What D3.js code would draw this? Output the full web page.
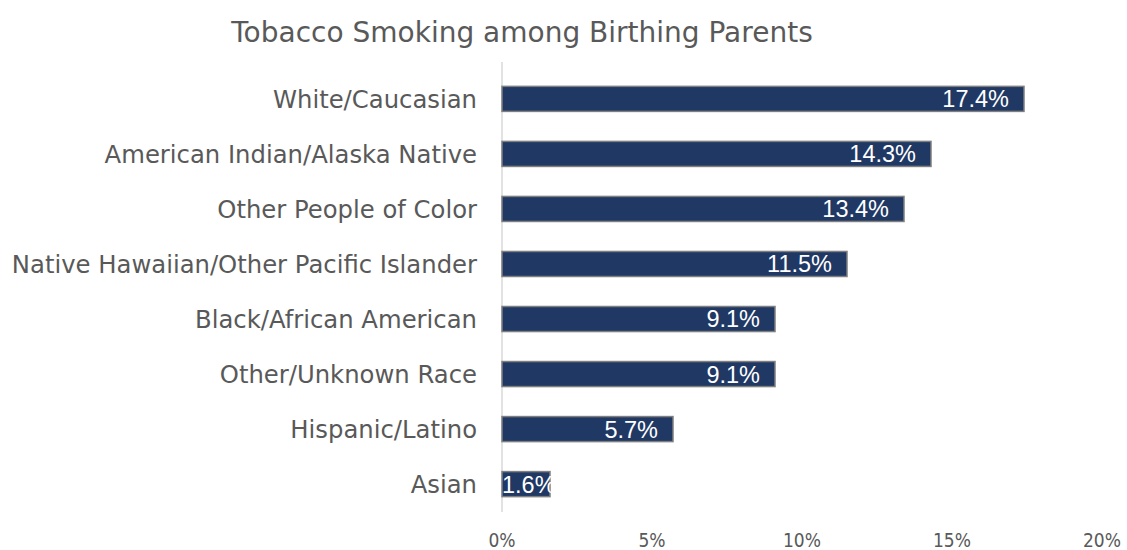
<!DOCTYPE HTML>
<html>
<script src="https://d3js.org/d3.v7.min.js"></script>
<body style="margin:0;background:white">
<svg id="svgMain" width="1127" height="550"></svg>
<script>
const categories = ["White/Caucasian", "American Indian/Alaska Native", "Other People of Color",
  "Native Hawaiian/Other Pacific Islander", "Black/African American", "Other/Unknown Race",
  "Hispanic/Latino", "Asian"];
const values = [17.4, 14.3, 13.4, 11.5, 9.1, 9.1, 5.7, 1.6];
const ticks = [0, 5, 10, 15, 20];

const data = categories.map((c, i) => ({cat: c, val: values[i]}));
const svg = d3.select('#svgMain');
const labelFont = "'DejaVu Sans', sans-serif";

var xs = d3.scaleLinear().domain([0, 20]).range([502, 1102]);
var ys = d3.scaleBand().domain(categories).range([71.5, 511.5]).paddingInner(0.545).paddingOuter(0.27);

// title
svg.append('text')
   .attr('x', 522).attr('y', 42)
   .attr('text-anchor', 'middle')
   .attr('font-family', labelFont)
   .attr('font-size', 28)
   .attr('fill', '#595959')
   .text('Tobacco Smoking among Birthing Parents');

// vertical axis line
svg.append('line')
   .attr('x1', xs(0)).attr('x2', xs(0))
   .attr('y1', 62).attr('y2', 512)
   .attr('stroke', '#d9d9d9').attr('stroke-width', 1.5);

// x tick labels
svg.selectAll('.xt').data(ticks).enter().append('text')
   .attr('x', d => xs(d)).attr('y', 547)
   .attr('text-anchor', 'middle')
   .attr('font-family', "'DejaVu Sans Condensed', sans-serif")
   .attr('font-size', 19)
   .attr('fill', '#595959')
   .text(d => d + '%');

// category labels
svg.selectAll('.cat').data(data).enter().append('text')
   .attr('x', 477).attr('y', d => ys(d.cat) + ys.bandwidth() / 2)
   .attr('dy', '0.36em')
   .attr('text-anchor', 'end')
   .attr('font-family', labelFont)
   .attr('font-size', 24.3)
   .attr('fill', '#595959')
   .text(d => d.cat);

// bars
svg.selectAll('rect').data(data).enter().append('rect')
   .attr('x', xs(0))
   .attr('y', d => ys(d.cat))
   .attr('width', d => xs(d.val) - xs(0))
   .attr('height', ys.bandwidth())
   .attr('fill', '#203864')
   .attr('stroke', '#7f7f7f')
   .attr('stroke-width', 1.5);

// value labels (inside end, pushed right if the bar is too short)
svg.selectAll('.val').data(data).enter().append('text')
   .attr('y', d => ys(d.cat) + ys.bandwidth() / 2)
   .attr('dy', '0.36em')
   .attr('text-anchor', 'end')
   .attr('font-family', "'Liberation Sans', Arial, sans-serif")
   .attr('font-size', 23.5)
   .attr('fill', 'white')
   .text(d => d.val.toFixed(1) + '%')
   .attr('x', function (d) {
      const w = this.getComputedTextLength();
      return Math.max(xs(d.val) - 15, xs(0) + w);
   });
</script>
</body>
</html>
